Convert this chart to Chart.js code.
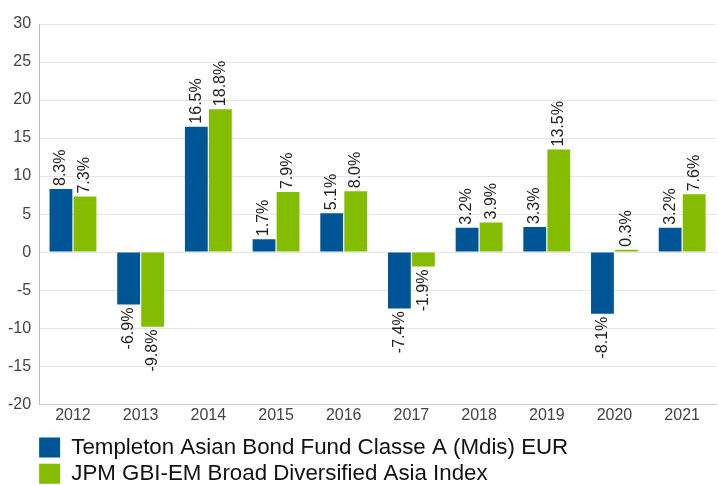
<!DOCTYPE html>
<html>
<head>
<meta charset="utf-8">
<script src="https://cdn.jsdelivr.net/npm/chart.js@4.4.1/dist/chart.umd.min.js"></script>
<style>
  html, body { margin: 0; padding: 0; background: #fff; }
  #wrap { width: 718px; height: 485px; }
</style>
</head>
<body>
<div id="wrap"><canvas id="chart"></canvas></div>
<script>
const years = ['2012', '2013', '2014', '2015', '2016', '2017', '2018', '2019', '2020', '2021'];
const fundValues = [8.3, -6.9, 16.5, 1.7, 5.1, -7.4, 3.2, 3.3, -8.1, 3.2];
const indexValues = [7.3, -9.8, 18.8, 7.9, 8.0, -1.9, 3.9, 13.5, 0.3, 7.6];
const seriesNames = [
    'Templeton Asian Bond Fund Classe A (Mdis) EUR',
    'JPM GBI-EM Broad Diversified Asia Index'
];

const FONT = 'Arial, "Liberation Sans", sans-serif';
const LEGEND_PAD = 4;

// rotated % labels above positive bars, below negative ones
const barLabels = {
    id: 'barLabels',
    afterDatasetsDraw(chart) {
        const ctx = chart.ctx;
        ctx.save();
        ctx.font = '16px ' + FONT;
        ctx.fillStyle = '#222';
        ctx.textBaseline = 'middle';
        chart.data.datasets.forEach((ds, i) => {
            chart.getDatasetMeta(i).data.forEach((bar, j) => {
                const v = ds.data[j];
                const text = v.toFixed(1) + '%';
                ctx.save();
                ctx.translate(bar.x, bar.y);
                ctx.rotate(-Math.PI / 2);
                if (v >= 0) {
                    ctx.textAlign = 'left';
                    ctx.fillText(text, 3, 0);
                } else {
                    ctx.textAlign = 'right';
                    ctx.fillText(text, -3, 0);
                }
                ctx.restore();
            });
        });
        ctx.restore();
    }
};

// line the legend up with the left edge of the plot
const legendShift = {
    id: 'legendShift',
    afterLayout(chart) {
        if (chart.legend) {
            chart.legend.left -= LEGEND_PAD;
            chart.legend.right -= LEGEND_PAD;
            chart.legend.top += 5;
        }
    }
};

new Chart(document.getElementById('chart'), {
    type: 'bar',
    data: {
        labels: years,
        datasets: [
            { label: seriesNames[0], data: fundValues, backgroundColor: '#005596' },
            { label: seriesNames[1], data: indexValues, backgroundColor: '#84bd00' }
        ]
    },
    options: {
        responsive: true,
        maintainAspectRatio: false,
        animation: false,
        categoryPercentage: 0.71,
        barPercentage: 0.95,
        layout: { padding: { top: 24, right: 2, left: 0, bottom: -5 } },
        plugins: {
            tooltip: { enabled: false },
            legend: {
                position: 'bottom',
                align: 'start',
                fullSize: false,
                labels: {
                    boxWidth: 21,
                    boxHeight: 20,
                    padding: LEGEND_PAD,
                    color: '#111',
                    font: { family: FONT, size: 22.3 }
                }
            }
        },
        scales: {
            x: {
                grid: { display: false, drawTicks: false },
                border: { display: true, color: '#ccc' },
                ticks: { color: '#444', font: { family: FONT, size: 16 }, padding: 2 }
            },
            y: {
                min: -20,
                max: 30,
                grid: { color: '#e6e6e6', drawTicks: false },
                border: { display: true, color: '#bbb' },
                ticks: { stepSize: 5, color: '#444', font: { family: FONT, size: 16 }, padding: 8 }
            }
        }
    },
    plugins: [barLabels, legendShift]
});
</script>
</body>
</html>
